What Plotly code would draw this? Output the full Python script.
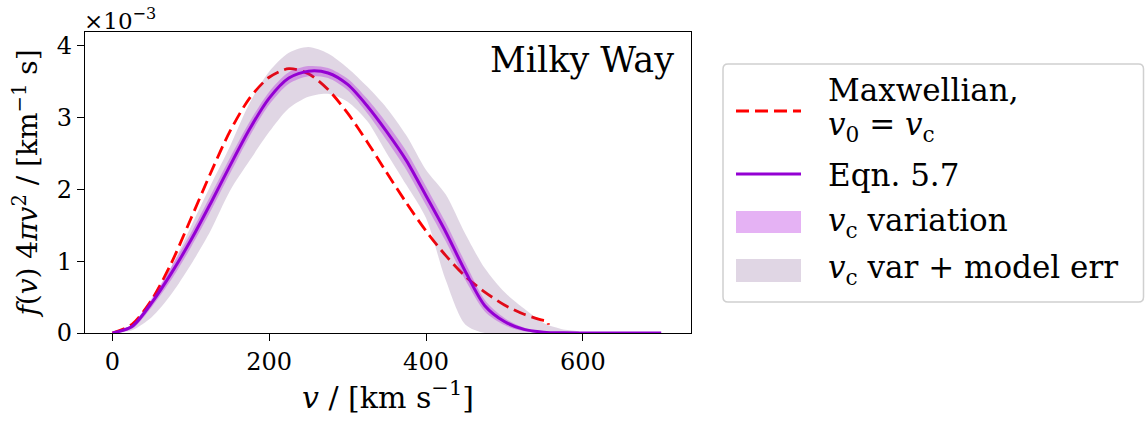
import plotly.graph_objects as go

# velocity grids (km/s); y values in units of 1e-3 (km^-1 s)
v_max = [0, 25, 50, 75, 100, 125, 150, 175, 200, 225, 250, 275, 300, 325, 350,
         375, 400, 425, 450, 475, 500, 525, 550, 555, 556]
f_max = [0, 0.12, 0.46, 0.97, 1.59, 2.22, 2.81, 3.27, 3.56, 3.68, 3.61, 3.39, 3.06,
         2.66, 2.23, 1.81, 1.42, 1.08, 0.79, 0.57, 0.39, 0.26, 0.175, 0.165, 0.115]

v_eq = [0, 25, 50, 75, 100, 125, 150, 175, 200, 225, 250, 275, 300, 325, 350, 375,
        400, 425, 450, 475, 500, 525, 550, 575, 600, 625, 650, 675, 700]
f_eq = [0, 0.09, 0.42, 0.83, 1.29, 1.80, 2.33, 2.84, 3.27, 3.55, 3.645, 3.62, 3.46,
        3.16, 2.80, 2.40, 1.91, 1.41, 0.86, 0.38, 0.16, 0.05, 0.012, 0.002, 0, 0, 0, 0, 0]
vc_hi = [0, 0.12, 0.48, 0.92, 1.39, 1.91, 2.44, 2.94, 3.36, 3.63, 3.715, 3.69, 3.54,
         3.26, 2.92, 2.53, 2.04, 1.54, 0.98, 0.46, 0.21, 0.075, 0.022, 0.007, 0, 0, 0, 0, 0]
vc_lo = [0, 0.06, 0.36, 0.74, 1.19, 1.69, 2.22, 2.74, 3.18, 3.47, 3.575, 3.55, 3.38,
         3.06, 2.68, 2.27, 1.78, 1.28, 0.74, 0.30, 0.11, 0.025, 0.002, 0, 0, 0, 0, 0, 0]

v_err = [0, 25, 50, 75, 100, 125, 150, 175, 200, 225, 250, 275, 300, 325, 350, 375,
         400, 425, 450, 475, 500, 525, 550, 575, 595]
err_hi = [0, 0.12, 0.45, 0.92, 1.48, 2.05, 2.60, 3.20, 3.64, 3.90, 3.98, 3.89, 3.69,
          3.43, 3.13, 2.75, 2.27, 1.93, 1.38, 0.90, 0.57, 0.34, 0.14, 0.05, 0.02]
err_lo = [0, 0.04, 0.22, 0.54, 0.95, 1.42, 1.98, 2.40, 2.80, 3.13, 3.29, 3.33, 3.22,
          2.95, 2.50, 2.06, 1.60, 0.74, 0.12, 0, 0, 0, 0, 0, 0]

x_ticks = [0, 200, 400, 600]
y_ticks = [0, 1, 2, 3, 4]

legend_labels = ["Maxwellian,", "<i>v</i><sub>0</sub> = <i>v</i><sub>c</sub>", "Eqn. 5.7",
                 "<i>v</i><sub>c</sub> variation", "<i>v</i><sub>c</sub> var + model err"]

FONT = "DejaVu Serif"
RED = "red"
PURPLE = "#9400D3"
VC_FILL = "rgba(170,0,220,0.3)"
ERR_FILL = "rgba(100,50,120,0.2)"

fig = go.Figure()

fig.add_trace(go.Scatter(
    x=v_max, y=f_max, mode="lines",
    line=dict(color=RED, width=2.8, dash="13px,6px", shape="spline", smoothing=0.8),
    name="Maxwellian, v0 = vc", showlegend=False))

fig.add_trace(go.Scatter(
    x=v_err + v_err[::-1], y=err_hi + err_lo[::-1], mode="lines", fill="toself",
    fillcolor=ERR_FILL, line=dict(width=0, shape="spline", smoothing=0.8),
    name="vc var + model err", showlegend=False))

fig.add_trace(go.Scatter(
    x=v_eq + v_eq[::-1], y=vc_hi + vc_lo[::-1], mode="lines", fill="toself",
    fillcolor=VC_FILL, line=dict(width=0, shape="spline", smoothing=0.8),
    name="vc variation", showlegend=False))

fig.add_trace(go.Scatter(
    x=v_eq, y=f_eq, mode="lines",
    line=dict(color=PURPLE, width=3, shape="spline", smoothing=0.8),
    name="Eqn. 5.7", showlegend=False))

axis_common = dict(showline=True, linecolor="black", linewidth=1.3, mirror=True,
                   ticks="outside", ticklen=7, tickwidth=1.2, tickcolor="black",
                   showgrid=False, zeroline=False,
                   tickfont=dict(family=FONT, size=24, color="black"))

fig.update_xaxes(range=[-35, 738], tickvals=x_ticks,
                 title=dict(text="<i>v</i> / [km s<sup>−1</sup>]",
                            font=dict(family=FONT, size=30, color="black"), standoff=8),
                 **axis_common)
fig.update_yaxes(range=[0, 4.19], tickvals=y_ticks,
                 title=dict(text="<i>f</i>(<i>v</i>) 4<i>π</i><i>v</i><sup>2</sup> / [km<sup>−1</sup> s]",
                            font=dict(family=FONT, size=28, color="black"), standoff=10),
                 **axis_common)

# ---- helpers: pixel -> paper coordinates of the axes box ----
PX0, PW, PY0, PH = 85, 606, 333, 301


def xp(px):
    return (px - PX0) / PW


def yp(py):
    return (PY0 - py) / PH


fig.add_annotation(text="×10<sup>−3</sup>", xref="paper", yref="paper", x=-0.005, y=yp(2),
                   xanchor="left", yanchor="top", showarrow=False,
                   font=dict(family=FONT, size=23, color="black"))
fig.add_annotation(text="Milky Way", xref="paper", yref="paper", x=xp(676), y=yp(38),
                   xanchor="right", yanchor="top", showarrow=False,
                   font=dict(family=FONT, size=35, color="black"))

# ---- legend (drawn in paper coordinates, right of the axes) ----
bx0, bx1, by0, by1, r = 723, 1143.5, 64, 302, 5
path = (f"M{xp(bx0 + r)},{yp(by0)} L{xp(bx1 - r)},{yp(by0)} "
        f"Q{xp(bx1)},{yp(by0)} {xp(bx1)},{yp(by0 + r)} L{xp(bx1)},{yp(by1 - r)} "
        f"Q{xp(bx1)},{yp(by1)} {xp(bx1 - r)},{yp(by1)} L{xp(bx0 + r)},{yp(by1)} "
        f"Q{xp(bx0)},{yp(by1)} {xp(bx0)},{yp(by1 - r)} L{xp(bx0)},{yp(by0 + r)} "
        f"Q{xp(bx0)},{yp(by0)} {xp(bx0 + r)},{yp(by0)} Z")
fig.add_shape(type="path", path=path, xref="paper", yref="paper",
              line=dict(color="#d0d0d0", width=1.5), fillcolor="white", layer="above")

ix0, ix1 = 736, 801
fig.add_shape(type="line", xref="paper", yref="paper", x0=xp(ix0), x1=xp(ix1),
              y0=yp(111), y1=yp(111), line=dict(color=RED, width=2.8, dash="13px,6px"))
fig.add_shape(type="line", xref="paper", yref="paper", x0=xp(ix0), x1=xp(ix1),
              y0=yp(174), y1=yp(174), line=dict(color=PURPLE, width=3))
fig.add_shape(type="rect", xref="paper", yref="paper", x0=xp(ix0), x1=xp(ix1),
              y0=yp(211), y1=yp(233), line=dict(width=0), fillcolor=VC_FILL)
fig.add_shape(type="rect", xref="paper", yref="paper", x0=xp(ix0), x1=xp(ix1),
              y0=yp(259), y1=yp(282), line=dict(width=0), fillcolor=ERR_FILL)

label_y = [90, 127, 175, 222, 269]
for lab, ly in zip(legend_labels, label_y):
    fig.add_annotation(text=lab, xref="paper", yref="paper", x=xp(826), y=yp(ly),
                       xanchor="left", yanchor="middle", showarrow=False,
                       font=dict(family=FONT, size=31, color="black"))

fig.update_layout(
    width=1145, height=421,
    margin=dict(l=85, r=454, t=32, b=88),
    paper_bgcolor="white", plot_bgcolor="white",
    font=dict(family=FONT, color="black"),
    showlegend=False,
)

fig.write_html("out.html")
